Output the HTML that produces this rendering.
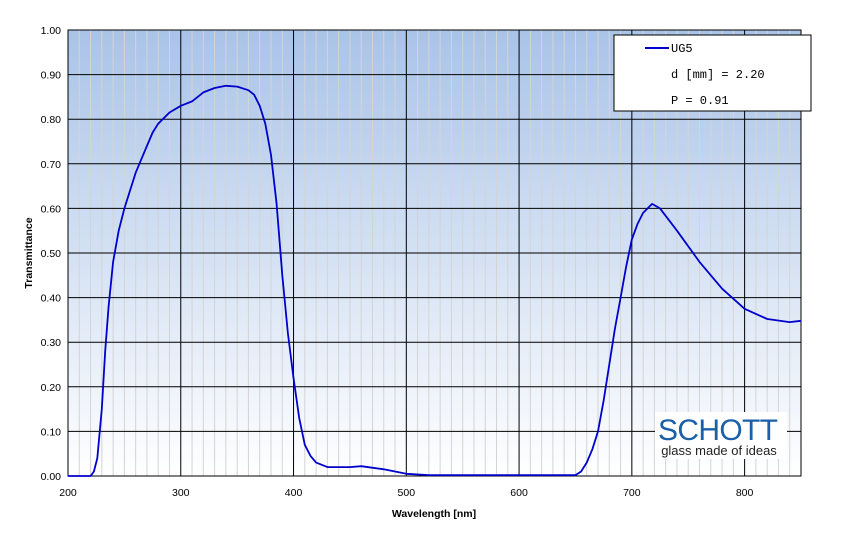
<!DOCTYPE html>
<html><head><meta charset="utf-8"><style>
html,body{margin:0;padding:0;background:#fff;}
svg{display:block;font-family:"Liberation Sans",sans-serif;}
</style></head><body>
<svg id="s" width="858" height="551" xmlns="http://www.w3.org/2000/svg">
<defs><linearGradient id="g" x1="0" y1="0" x2="0" y2="1">
<stop offset="0" stop-color="#a9c3e8"/><stop offset="1" stop-color="#ffffff"/></linearGradient></defs>
<rect x="68" y="30" width="733" height="446" fill="url(#g)"/>
<g id="grid"></g>
<rect x="68" y="30" width="733" height="446" fill="none" stroke="#000" stroke-width="1"/>
<g id="lab" font-size="10.5" fill="#000"></g>
<text x="434" y="517" font-size="10.5" font-weight="bold" text-anchor="middle">Wavelength [nm]</text>
<text transform="translate(32,253) rotate(-90)" font-size="10.5" font-weight="bold" text-anchor="middle">Transmittance</text>
<path id="c" fill="none" stroke="#0000cc" stroke-width="1.8" stroke-linejoin="round"/>
<rect x="614" y="35" width="197" height="76" fill="#fff" stroke="#000"/>
<line x1="645" y1="48" x2="669" y2="48" stroke="#0000cc" stroke-width="2"/>
<g font-family="Liberation Mono,monospace" font-size="12">
<text x="671" y="52">UG5</text>
<text x="671" y="78">d [mm]  = 2.20</text>
<text x="671" y="104">P = 0.91</text></g>
<rect x="655" y="412" width="132" height="47" fill="#fff"/>
<text x="718" y="440" font-size="30" fill="#1a5fa8" text-anchor="middle" textLength="120">SCHOTT</text>
<text x="719" y="455" font-size="13" fill="#222" text-anchor="middle">glass made of ideas</text>
</svg>
<script>
var X=function(n){return 68+(n-200)*733/650},Y=function(t){return 476-t*446};
var g=document.getElementById('grid'),l=document.getElementById('lab'),h='',k='';
for(var n=210;n<850;n+=10){if(n%100)h+='<line x1="'+X(n)+'" y1="30" x2="'+X(n)+'" y2="476" stroke="#d4d4d4"/>';}
for(var n=300;n<850;n+=100)h+='<line x1="'+X(n)+'" y1="30" x2="'+X(n)+'" y2="476" stroke="#000"/>';
for(var i=1;i<10;i++)h+='<line x1="68" y1="'+Y(i/10)+'" x2="801" y2="'+Y(i/10)+'" stroke="#000"/>';
g.innerHTML=h;
for(var n=200;n<=800;n+=100)k+='<text x="'+X(n)+'" y="496" text-anchor="middle">'+n+'</text>';
for(var i=0;i<=10;i++)k+='<text x="61" y="'+(Y(i/10)+4)+'" text-anchor="end">'+(i/10).toFixed(2)+'</text>';
l.innerHTML=k;
var p=[[200,0],[220,0],[223,0.01],[226,0.04],[230,0.15],[233,0.28],[236,0.38],[240,0.48],[245,0.55],[250,0.6],[255,0.64],[260,0.68],[265,0.71],[270,0.74],[275,0.77],[280,0.79],[290,0.815],[300,0.83],[310,0.84],[315,0.85],[320,0.86],[330,0.87],[340,0.875],[350,0.873],[360,0.865],[365,0.855],[370,0.83],[375,0.79],[380,0.72],[385,0.61],[390,0.45],[395,0.32],[400,0.22],[405,0.13],[410,0.07],[415,0.045],[420,0.03],[430,0.02],[450,0.02],[460,0.022],[480,0.015],[500,0.005],[520,0.002],[650,0.002],[655,0.01],[660,0.03],[665,0.06],[670,0.1],[675,0.17],[680,0.25],[685,0.33],[690,0.4],[695,0.47],[700,0.53],[705,0.565],[710,0.59],[718,0.61],[725,0.6],[740,0.55],[760,0.48],[780,0.42],[800,0.375],[820,0.352],[840,0.345],[850,0.348]];
document.getElementById('c').setAttribute('d','M'+p.map(function(q){return X(q[0]).toFixed(1)+','+Y(q[1]).toFixed(1)}).join(' L'));
</script>
</body></html>
